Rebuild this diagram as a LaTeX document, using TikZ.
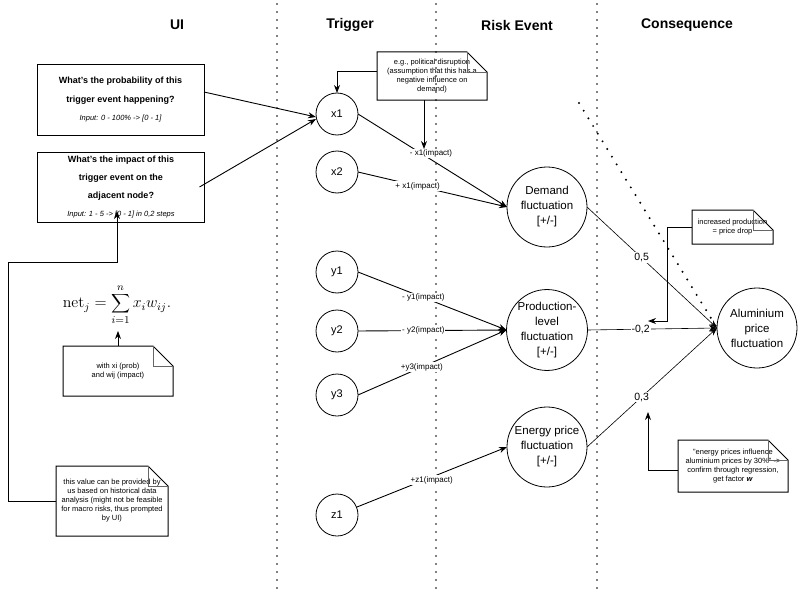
\documentclass[tikz,border=0pt]{standalone}
\usepackage[no-math]{fontspec}
\setmainfont{Liberation Sans}
\usetikzlibrary{arrows.meta,calc}
\newcommand{\mknote}[6]{%
  \node[notetext, minimum width=#4, minimum height=#5] (#1) at (#2,#3) {#6};
  \draw[notebord] (#1.north west) -- ($(#1.north east)+(-20,0)$) -- ($(#1.north east)+(0,20)$) -- (#1.south east) -- (#1.south west) -- cycle;
  \draw[foldline] ($(#1.north east)+(-20,0)$) -- ($(#1.north east)+(-20,20)$) -- ($(#1.north east)+(0,20)$);
}
\begin{document}
\begin{tikzpicture}[x=1pt,y=-1pt,
  every node/.style={inner sep=0pt, outer sep=0pt},
  hdr/.style={font=\bfseries\fontsize{14}{16}\selectfont},
  sepline/.style={line width=1.6pt, dash pattern=on 0pt off 8pt, line cap=round},
  diagline/.style={line width=2.2pt, dash pattern=on 0pt off 9pt, line cap=round},
  small/.style={circle, draw, line width=0.8pt, minimum size=42pt, font=\fontsize{11}{13}\selectfont},
  big/.style={circle, draw, line width=0.8pt, minimum size=80pt, align=center, font=\fontsize{11.5}{15}\selectfont},
  uibox/.style={draw, line width=1pt, align=center, minimum width=167pt, minimum height=70pt},
  notetext/.style={align=center, font=\fontsize{7.5}{9}\selectfont},
  notebord/.style={line width=1pt},
  foldline/.style={line width=0.6pt, draw=black!60},
  arr/.style={-{Stealth[length=8pt,width=6pt]}, line width=0.9pt},
  thin/.style={-{Stealth[length=8pt,width=6pt]}, line width=0.6pt},
  lab/.style={fill=white, inner sep=1pt, font=\fontsize{8}{9}\selectfont},
  wlab/.style={fill=white, inner sep=1pt, font=\fontsize{10.5}{12}\selectfont}
]
\useasboundingbox (0,0) rectangle (798,594);
% headers
\node[hdr] (hUI) at (177,25) {UI};
\node[hdr] (hTr) at (350,25) {Trigger};
\node[hdr] (hRE) at (517,25) {Risk Event};
\node[hdr] (hCo) at (687,25) {Consequence};
% separators
\coordinate (s1t) at (277,4); \coordinate (s1b) at (277,594);
\coordinate (s2t) at (436,4); \coordinate (s2b) at (436,594);
\coordinate (s3t) at (597,4); \coordinate (s3b) at (597,594);
\draw[sepline] (s1t) -- (s1b);
\draw[sepline] (s2t) -- (s2b);
\draw[sepline] (s3t) -- (s3b);
% UI boxes
\node[uibox, font=\fontsize{9}{18.5}\selectfont] (q1) at (120.5,100) {\bfseries What's the probability of this\\\bfseries trigger event happening?\\{\itshape\fontsize{7.5}{18.5}\selectfont Input: 0 - 100\% -> [0 - 1]}};
\node[uibox, font=\fontsize{9}{17.7}\selectfont] (q2) at (121,187) {\bfseries What's the impact of this\\\bfseries trigger event on the\\\bfseries adjacent node?\\{\itshape\fontsize{7.5}{17.7}\selectfont Input: 1 - 5 -> [0 - 1] in 0,2 steps}};
% trigger nodes
\node[small] (x1) at (337,114) {x1};
\node[small] (x2) at (337,172) {x2};
\node[small] (y1) at (337,272) {y1};
\node[small] (y2) at (337,331) {y2};
\node[small] (y3) at (337,395) {y3};
\node[small] (z1) at (337,515) {z1};
% risk events
\node[big] (dem) at (547,207) {Demand\\fluctuation\\{[+/-]}};
\node[big] (prod) at (547,330) {Production-\\level\\fluctuation\\{[+/-]}};
\node[big] (ene) at (547,447) {Energy price\\fluctuation\\{[+/-]}};
\node[big] (alu) at (757,328) {Aluminium\\price\\fluctuation};
% diagonal dotted line
\coordinate (dg) at (579,103);
\draw[diagline] (dg) -- (alu.west);
% UI to x1
\draw[arr] ($(q1.east)+(0,-8)$) -- ($(x1.west)+(0,3)$);
\draw[arr] ($(q2.east)+(-5,0)$) -- ($(x1.west)+(0,5)$);
% trigger edges
\draw[arr] (x1.east) -- (dem.west) node[lab, pos=0.49, yshift=6pt] (lx1) {- x1(impact)};
\draw[arr] (x2.east) -- (dem.west) node[lab, pos=0.4] (lx2) {+ x1(impact)};
\draw[arr] (y1.east) -- (prod.west) node[lab, pos=0.44] (ly1) {- y1(impact)};
\draw[arr] (y2.east) -- (prod.west) node[lab, pos=0.44] (ly2) {- y2(impact)};
\draw[arr] (y3.east) -- (prod.west) node[lab, pos=0.43] (ly3) {+y3(impact)};
\draw[arr] (z1) -- (ene.west) node[lab, pos=0.5, yshift=-3pt] (lz1) {+z1(impact)};
% consequence edges
\draw[thin] (dem.east) -- (alu.west) node[wlab, pos=0.42] (l05) {0,5};
\draw[thin] (prod.east) -- (alu.west) node[wlab, pos=0.41] (l02) {-0,2};
\draw[thin] (ene.east) -- (alu.west) node[wlab, pos=0.42] (l03) {0,3};
% notes
\mknote{ne}{432}{76}{110}{48}{e.g., political disruption\\(assumption that this has a\\negative influence on\\demand)}
\draw[arr] ($(ne.west)+(0,-5)$) -| (x1.north);
\draw[arr] ($(ne.south)+(-8,0)$) -- ++(0,49);
\mknote{inc}{732.5}{227}{81}{34}{increased production\\= price drop}
\coordinate (incend) at (648,321);
\draw[arr] (inc.west) -- ++(-25,0) |- (incend);
\mknote{en}{733}{466}{110}{52}{"energy prices influence\\aluminium prices by 30\%" ->\\confirm through regression,\\get factor \textbf{\textit{w}}}
\draw[arr] ($(en.west)+(0,4)$) -- ++(-30,0) -- ++(0,-58);
% formula
\node[font=\fontsize{12}{14}\selectfont, scale=1.32] (f) at (117,305) {$\displaystyle \mathrm{net}_j=\sum_{i=1}^{n} x_i w_{ij}.$};
\mknote{wx}{118}{371}{110}{50}{with xi (prob)\\and wij (impact)}
\draw[arr] (wx.north) -- ++(0,-15);
\mknote{tv}{112}{501}{112}{70}{this value can be provided by\\us based on historical data\\analysis (might not be feasible\\for macro risks, thus prompted\\by UI)}
\coordinate (c1) at (8,262);
\coordinate (tip2) at (117,211);
\draw[arr] (tv.west) -| (c1) -- (c1 -| tip2) -- (tip2);
\end{tikzpicture}
\end{document}
